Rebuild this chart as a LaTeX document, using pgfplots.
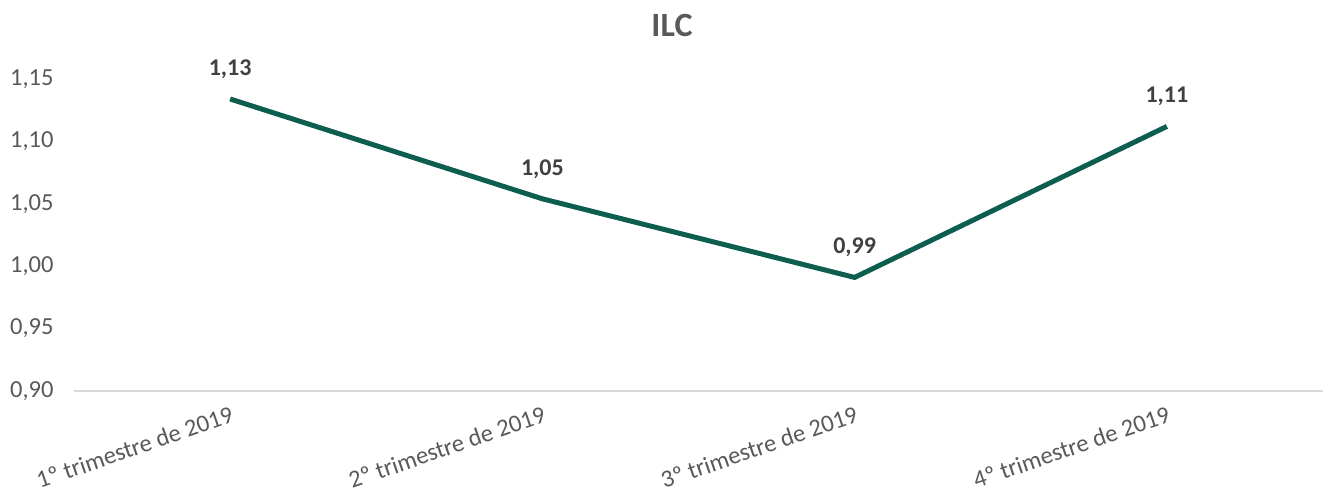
\documentclass[border=0pt]{standalone}
\usepackage{fontspec}
\setmainfont{Carlito}
\usepackage{pgfplots}
\pgfplotsset{compat=1.18}
\definecolor{linegreen}{RGB}{14,94,80}
\definecolor{txtgray}{RGB}{89,89,89}
\definecolor{lblgray}{RGB}{64,64,64}
\definecolor{basegray}{RGB}{217,217,217}
\begin{document}
\begin{tikzpicture}
\begin{axis}[
    name=ax,
    at={(0,0)}, anchor=south west,
    scale only axis,
    width=1249bp, height=312bp,
    xmin=-0.5, xmax=3.5,
    ymin=0.90, ymax=1.15,
    ytick={0.90,0.95,1.00,1.05,1.10,1.15},
    xtick={0,1,2,3},
    xticklabels={1º trimestre de 2019,2º trimestre de 2019,3º trimestre de 2019,4º trimestre de 2019},
    axis lines*=left,
    x axis line style={draw=basegray, line width=1.2bp},
    y axis line style={draw=none},
    major tick length=0pt,
    /pgf/number format/assume math mode=true,
    /pgf/number format/use comma,
    /pgf/number format/fixed,
    /pgf/number format/fixed zerofill,
    /pgf/number format/precision=2,
    yticklabel style={font=\fontsize{24.5bp}{26bp}\selectfont, text=txtgray, anchor=east, xshift=-17bp},
    xticklabel style={font=\fontsize{24.5bp}{26bp}\selectfont, text=txtgray, rotate=19, anchor=north east, xshift=-2bp, yshift=-10bp},
    nodes near coords,
    nodes near coords style={font=\bfseries\fontsize{24bp}{26bp}\selectfont, text=lblgray, anchor=center, yshift=30bp,
        /pgf/number format/assume math mode=true, /pgf/number format/use comma, /pgf/number format/fixed,
        /pgf/number format/fixed zerofill, /pgf/number format/precision=2},
    clip=false,
]
\addplot[linegreen, line width=5bp, mark=none] coordinates {
    (0,1.134) (1,1.054) (2,0.991) (3,1.112)
};
\end{axis}
\node[font=\bfseries\fontsize{34bp}{36bp}\selectfont, text=txtgray] at ([xshift=598bp,yshift=366bp]ax.south west) {ILC};
\path[use as bounding box] ([xshift=-74bp,yshift=-107bp]ax.south west) rectangle ([xshift=1259bp,yshift=391bp]ax.south west);
\end{tikzpicture}
\end{document}
